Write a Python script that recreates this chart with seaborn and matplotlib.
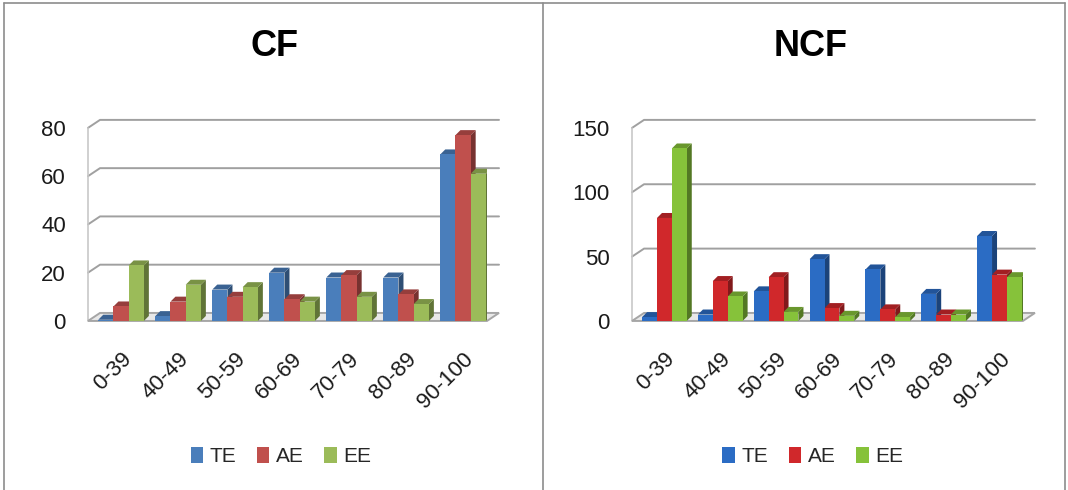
import numpy as np
import pandas as pd
import matplotlib
matplotlib.use("Agg")
import matplotlib.pyplot as plt
import seaborn as sns
from matplotlib.patches import Polygon
from matplotlib.lines import Line2D
from matplotlib.colors import to_rgb


# ──────────────────────────────────────────────
# Data
# ──────────────────────────────────────────────

categories = ["0-39", "40-49", "50-59", "60-69", "70-79", "80-89", "90-100"]
series = ["TE", "AE", "EE"]

cf_te = [0.5, 2, 13, 20, 18, 18, 69]
cf_ae = [6, 8, 10, 9, 19, 11, 77]
cf_ee = [23, 15, 14, 8, 10, 7, 61]

ncf_te = [3, 5, 23, 48, 40, 21, 66]
ncf_ae = [80, 31, 34, 10, 9, 5, 36]
ncf_ee = [134, 19, 7, 4, 3, 5, 34]

cf_ticks = [0, 20, 40, 60, 80]
ncf_ticks = [0, 50, 100, 150]

cf_colors = ["#4a7ebb", "#c0504d", "#9bbb59"]
ncf_colors = ["#2b6cc4", "#d0282b", "#86c23a"]


def to_long(te, ae, ee):
    """Stack the three series into a long DataFrame for seaborn."""
    rows = []
    for name, vals in zip(series, [te, ae, ee]):
        for cat, v in zip(categories, vals):
            rows.append({"range": cat, "series": name, "value": v})
    return pd.DataFrame(rows)


def darken(color, f):
    r, g, b = to_rgb(color)
    return (r * f, g * f, b * f)


def poly(ax, pts, **kw):
    """Add a polygon given in display pixels."""
    p = Polygon(ax.transData.inverted().transform(pts), closed=True, **kw)
    ax.add_patch(p)
    return p


def add_depth(ax, ticks, dx=5, dy=5, wall_dx=12, wall_dy=8):
    """Fake Excel 3D look: bar sides/tops, back-wall gridlines, floor."""
    for bar in list(ax.patches):
        w, h = bar.get_width(), bar.get_height()
        if w <= 0:
            continue
        x, y = bar.get_x(), bar.get_y()
        (x0, y0) = ax.transData.transform((x, y))
        (x1, y1) = ax.transData.transform((x + w, y + h))
        fc = bar.get_facecolor()
        poly(ax, [(x1, y0), (x1 + dx, y0 + dy), (x1 + dx, y1 + dy), (x1, y1)],
             facecolor=darken(fc, 0.62), edgecolor="none", zorder=2.5)
        poly(ax, [(x0, y1), (x0 + dx, y1 + dy), (x1 + dx, y1 + dy), (x1, y1)],
             facecolor=darken(fc, 0.78), edgecolor="none", zorder=2.5)

    xl = ax.get_xlim()
    inv = ax.transData.inverted()
    grid = dict(color="#a0a0a0", linewidth=1.4, zorder=1, clip_on=False)

    # back-wall gridlines with a slanted stub on the left wall
    for t in ticks[1:]:
        (gx0, gy) = ax.transData.transform((xl[0], t))
        (gx1, _) = ax.transData.transform((xl[1], t))
        pts = inv.transform([(gx0, gy), (gx0 + wall_dx, gy + wall_dy), (gx1 + wall_dx, gy + wall_dy)])
        ax.add_line(Line2D(pts[:, 0], pts[:, 1], **grid))

    # left wall edge
    (lx, ly0) = ax.transData.transform((xl[0], ticks[0]))
    (_, ly1) = ax.transData.transform((xl[0], ticks[-1]))
    pts = inv.transform([(lx, ly0), (lx, ly1)])
    ax.add_line(Line2D(pts[:, 0], pts[:, 1], color="#c8c8c8", linewidth=1.2, zorder=1, clip_on=False))

    # floor
    (fx0, fy0) = ax.transData.transform((xl[0], 0))
    (fx1, _) = ax.transData.transform((xl[1], 0))
    poly(ax, [(fx0, fy0), (fx0 + wall_dx, fy0 + wall_dy), (fx1 + wall_dx, fy0 + wall_dy), (fx1, fy0)],
         facecolor="#e8e8e8", edgecolor="#a6a6a6", linewidth=1.4, zorder=1.5, clip_on=False)


def draw_panel(fig, rect, df, colors, ticks, title, title_x, legend_x):
    ax = fig.add_axes(rect)
    sns.barplot(data=df, x="range", y="value", hue="series", palette=colors,
                width=0.8, saturation=1, ax=ax, zorder=3, edgecolor="none")
    handles, labels = ax.get_legend_handles_labels()
    ax.get_legend().remove()

    ax.set_ylim(ticks[0], ticks[-1])
    ax.set_xlim(-0.58, len(categories) - 0.58)
    ax.set_yticks(ticks)
    ax.set_xlabel("")
    ax.set_ylabel("")
    ax.grid(False)
    for s in ax.spines.values():
        s.set_visible(False)
    ax.tick_params(axis="both", length=0, colors="#1a1a1a")
    ax.tick_params(axis="y", pad=16, labelsize=16)
    ax.tick_params(axis="x", pad=20, labelsize=16)
    plt.setp(ax.get_xticklabels(), rotation=45, ha="right", rotation_mode="anchor")

    add_depth(ax, ticks)

    fig.text(title_x, 0.905, title, ha="center", va="center", color="black",
             fontsize=26, fontweight="bold",
             family=["DejaVu Sans Condensed", "Liberation Sans", "DejaVu Sans"])
    fig.legend(handles, labels, loc="center", bbox_to_anchor=(legend_x, 0.069),
               ncol=3, frameon=False, fontsize=15, handlelength=0.6,
               handleheight=0.8, handletextpad=0.3, columnspacing=1.0)
    return ax


sns.set_theme(style="white")
plt.rcParams["font.family"] = ["Liberation Sans", "DejaVu Sans"]

fig = plt.figure(figsize=(10.68, 4.9), dpi=100)

draw_panel(fig, [0.0824, 0.345, 0.3736, 0.394], to_long(cf_te, cf_ae, cf_ee),
           cf_colors, cf_ticks, "CF", 0.257, 0.263)
draw_panel(fig, [0.5918, 0.345, 0.366, 0.394], to_long(ncf_te, ncf_ae, ncf_ee),
           ncf_colors, ncf_ticks, "NCF", 0.759, 0.761)

# panel frames
frame = dict(color="#8c8c8c", linewidth=1.2, transform=fig.transFigure)
fig.add_artist(Line2D([0.004, 0.997], [0.994, 0.994], **frame))
fig.add_artist(Line2D([0.004, 0.004], [0.0, 0.994], **frame))
fig.add_artist(Line2D([0.508, 0.508], [0.0, 0.994], **frame))
fig.add_artist(Line2D([0.997, 0.997], [0.0, 0.994], **frame))

fig.savefig("out.png", dpi=100, facecolor="white")
